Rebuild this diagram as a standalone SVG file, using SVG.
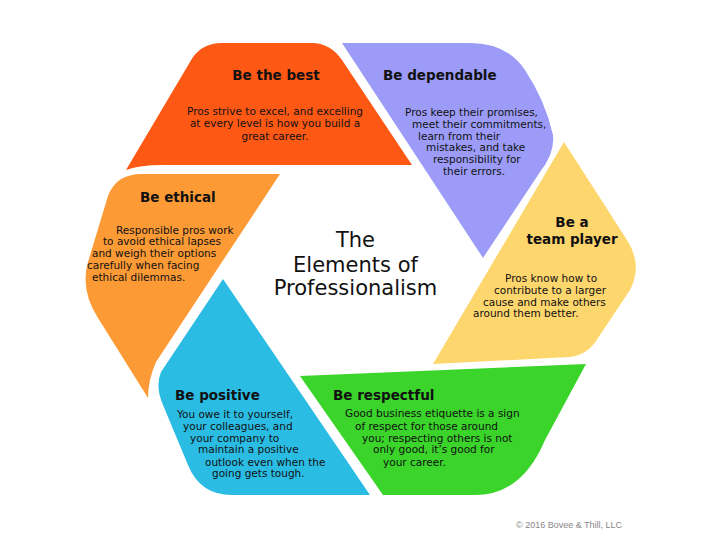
<svg xmlns="http://www.w3.org/2000/svg" width="720" height="540" viewBox="0 0 720 540">
<style>
  .t{font-family:"DejaVu Sans",Verdana,sans-serif;font-weight:bold;font-size:13.5px;fill:#111}
  .b{font-family:"DejaVu Sans",Verdana,sans-serif;font-size:10.5px;fill:#111}
  .c{font-family:"DejaVu Sans",Verdana,sans-serif;font-size:21px;fill:#111;text-anchor:middle}
  .m{text-anchor:middle}
</style>
<rect width="720" height="540" fill="#fff"/>
<g id="be-the-best">
  <path d="M126,170 L190,62 Q200,43 222,43 L312,43 Q330,43 342,60 L412,165 L162,165 Q140,165 126,170 Z" fill="#FE5815"/>
  <text class="t m" x="276" y="80">Be the best</text>
  <text class="b m" x="275" y="115">Pros strive to excel, and excelling</text>
  <text class="b m" x="275" y="127">at every level is how you build a</text>
  <text class="b m" x="275" y="139.5">great career.</text>
</g>
<g id="be-dependable">
  <path d="M342,43 L470,43 Q507,43 525,70 Q545,100 553,135 Q555,153 540,172 L483,258 Z" fill="#9C9CF8"/>
  <text class="t" x="383" y="80">Be dependable</text>
  <text class="b" x="405" y="115.5">Pros keep their promises,</text>
  <text class="b" x="412" y="127.5">meet their commitments,</text>
  <text class="b" x="418" y="139.5">learn from their</text>
  <text class="b" x="426" y="151">mistakes, and take</text>
  <text class="b" x="433" y="162.5">responsibility for</text>
  <text class="b" x="443" y="174.5">their errors.</text>
</g>
<g id="be-a-team-player">
  <path d="M564,142 L627,240 Q643,265 630,290 L598,338 Q588,355 570,357 L433,364 Z" fill="#FED66E"/>
  <text class="t m" x="572" y="226.5">Be a</text>
  <text class="t m" x="572" y="243.5">team player</text>
  <text class="b" x="505" y="282">Pros know how to</text>
  <text class="b" x="494" y="294">contribute to a larger</text>
  <text class="b" x="483" y="306">cause and make others</text>
  <text class="b" x="473" y="317">around them better.</text>
</g>
<g id="be-respectful">
  <path d="M300,376 L586,364 L545,440 Q522,495 475,495 L383,495 Z" fill="#3AD42A"/>
  <text class="t" x="333" y="400">Be respectful</text>
  <text class="b" x="345" y="417">Good business etiquette is a sign</text>
  <text class="b" x="355" y="429.5">of respect for those around</text>
  <text class="b" x="362" y="442">you; respecting others is not</text>
  <text class="b" x="373" y="453">only good, it’s good for</text>
  <text class="b" x="383" y="465.5">your career.</text>
</g>
<g id="be-positive">
  <path d="M223,279 L370,495 L232,495 Q200,495 188,465 L163,405 Q155,386 161,372 Z" fill="#2BBCE4"/>
  <text class="t" x="175" y="400">Be positive</text>
  <text class="b" x="177" y="418">You owe it to yourself,</text>
  <text class="b" x="183" y="429.5">your colleagues, and</text>
  <text class="b" x="190" y="442">your company to</text>
  <text class="b" x="198" y="453">maintain a positive</text>
  <text class="b" x="205" y="465.5">outlook even when the</text>
  <text class="b" x="212" y="477">going gets tough.</text>
</g>
<g id="be-ethical">
  <path d="M142,174 L280,174 L156,362 Q148,380 148,398 L98,318 Q80,290 88,262 L108,196 Q116,174 142,174 Z" fill="#FC9A35"/>
  <text class="t" x="140" y="201.5">Be ethical</text>
  <text class="b" x="116" y="233.5">Responsible pros work</text>
  <text class="b" x="103" y="245">to avoid ethical lapses</text>
  <text class="b" x="92" y="257">and weigh their options</text>
  <text class="b" x="87" y="269">carefully when facing</text>
  <text class="b" x="92" y="281">ethical dilemmas.</text>
</g>
<g id="center-title">
  <text class="c" x="355.5" y="247">The</text>
  <text class="c" x="355.5" y="271.5">Elements of</text>
  <text class="c" x="355.5" y="295">Professionalism</text>
</g>
<text x="516" y="528" font-family="Liberation Sans, Arial, sans-serif" font-size="9" fill="#888">© 2016 Bovee &amp; Thill, LLC</text>
</svg>
